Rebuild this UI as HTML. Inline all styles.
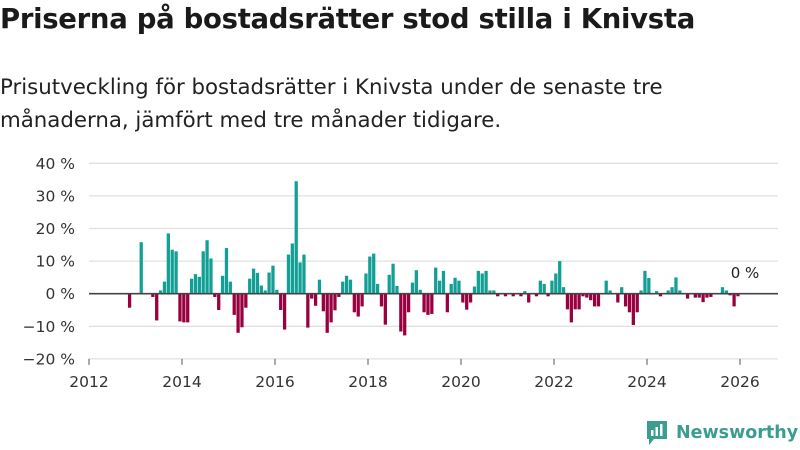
<!DOCTYPE html>
<html><head><meta charset="utf-8">
<style>
body{margin:0;width:800px;height:450px;background:#fff;overflow:hidden;font-family:"DejaVu Sans","Liberation Sans",sans-serif;color:#1a1a1a}
h1{position:absolute;left:0;top:3px;margin:0;font-size:27.5px;font-weight:bold;letter-spacing:-0.3px}
.sub{position:absolute;left:0;top:71px;margin:0;font-size:21.3px;line-height:33px;color:#222}
svg{position:absolute;left:0;top:0}
</style></head><body>
<h1>Priserna på bostadsrätter stod stilla i Knivsta</h1>
<p class="sub">Prisutveckling för bostadsrätter i Knivsta under de senaste tre<br>månaderna, jämfört med tre månader tidigare.</p>
<svg id="chart" width="800" height="450"></svg>
<div style="position:absolute;left:645px;top:420px;display:flex;align-items:center;gap:7px;color:#3a9e8f;font-size:17.5px;font-weight:bold">
<svg width="24" height="26" viewBox="0 0 24 26" style="position:static"><path d="M2 1h20v18H9l-5 6v-6H2z" fill="#3a9e8f"/><rect x="6" y="10" width="2.5" height="6" fill="#fff"/><rect x="10.5" y="7" width="2.5" height="9" fill="#fff"/><rect x="15" y="4" width="2.5" height="12" fill="#fff"/></svg>
<span>Newsworthy</span></div>
<script>
const startMonth = 10; // months since 2012-01 for first value
const values = [-4.3,0,0,15.8,0,0,-1,-8.2,1,3.7,18.5,13.5,13,-8.5,-8.8,-8.8,4.6,6,5.2,13,16.4,10.8,-1,-5,5.5,14,3.7,-6.5,-12,-10.3,-4.3,4.6,7.7,6.4,2.5,1,6.5,8.6,1.2,-5,-11,12,15.4,34.5,9.6,12,-10.4,-1.5,-3.7,4.3,-5.4,-12,-8.8,-5.1,-1,3.7,5.5,4.3,-5.7,-7,-3.9,6.2,11.4,12.3,3,-3.9,-9.5,5.8,9.2,2.4,-11.6,-12.8,-5.7,3.4,7.2,1.2,-5.7,-6.5,-6.2,8,4,7,-5.7,3,4.9,4,-2.7,-4.9,-2.7,2.2,7,6.2,7,1,1,-0.8,0,-0.8,0,-0.8,0,-0.8,0.8,-2.7,0,-0.8,4,3,-0.8,4,6.2,10,2,-4.8,-8.8,-4.8,-4.8,-0.8,-1.2,-2,-3.9,-3.9,0,4,1,0,-2.7,2,-3.9,-5.7,-9.6,-5.7,1,7,4.8,0,0.8,-0.8,0,1,2,5,1,0,-1.5,0,-1.2,-1.2,-2.6,-1.2,-1,0,0,2,1,-0.5,-3.9,-0.8];
const yTicks = [40,30,20,10,0,-10,-20];
const xTicks = [2012,2014,2016,2018,2020,2022,2024,2026];
const lastLabel = "0 %";
const NS="http://www.w3.org/2000/svg";
const svg=document.getElementById('chart');
const x0=89, monthW=3.875, plotR=778;
const xScale=m=>x0+m*monthW;
const yScale=v=>293.7-v*3.26;
function mk(t,a){const e=document.createElementNS(NS,t);for(const k in a)e.setAttribute(k,a[k]);svg.appendChild(e);return e;}
yTicks.forEach(v=>{
  if(v!==0){const l=mk('line',{x1:x0,x2:plotR,y1:yScale(v),y2:yScale(v),stroke:'#e0e0e0','stroke-width':1.3});
  
  }
  const t=mk('text',{x:75,y:yScale(v)+5.5,'text-anchor':'end','font-size':15.5,fill:'#333'});
  t.textContent=(v<0?'\u2212'+(-v):v)+' %';
  
  
});
xTicks.forEach(yr=>{
  const x=xScale((yr-2012)*12);
  const tk=mk('line',{x1:x,x2:x,y1:yScale(-20),y2:yScale(-20)+6,stroke:'#555','stroke-width':1});
  
  
  const t=mk('text',{x:x,y:387,'text-anchor':'middle','font-size':15.5,fill:'#333'});
  t.textContent=yr;
  
  
});
values.forEach((v,i)=>{
  if(v===0)return;
  const m=startMonth+i;
  const y=v>0?yScale(v):yScale(0);
  const r=mk('rect',{x:xScale(m)+0.2,y:y,width:monthW-0.6,height:Math.abs(yScale(v)-yScale(0)),fill:v>0?'#12a096':'#990040'});
  
  
});
const z=mk('line',{x1:x0,x2:plotR,y1:yScale(0),y2:yScale(0),stroke:'#444','stroke-width':1.6});


const ll=mk('text',{x:745,y:278,'text-anchor':'middle','font-size':15,fill:'#222'});
ll.textContent=lastLabel;


</script>
</body></html>
